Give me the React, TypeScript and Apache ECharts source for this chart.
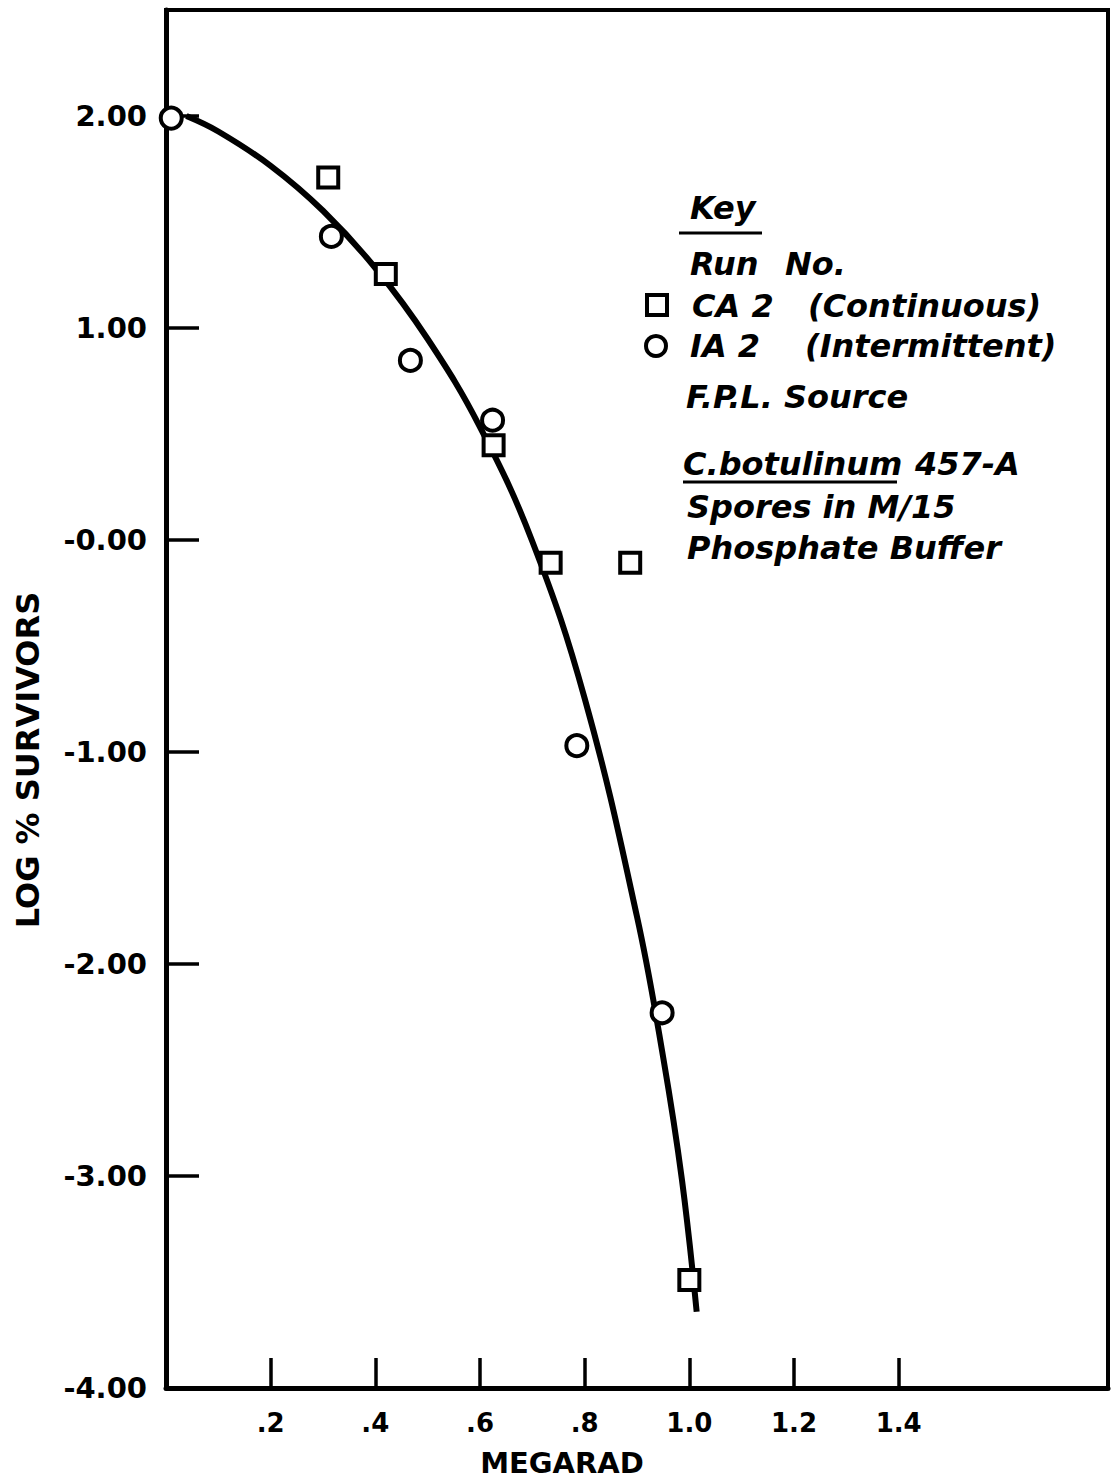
import React, { useEffect, useRef } from "react";
import * as echarts from "echarts";

// Run CA 2 (continuous irradiation) — squares
const caDose = [0.31, 0.42, 0.626, 0.735, 0.887, 1.0];
const caLog = [1.71, 1.255, 0.447, -0.107, -0.107, -3.49];

// Run IA 2 (intermittent irradiation) — circles
const iaDose = [0.01, 0.316, 0.467, 0.624, 0.785, 0.948];
const iaLog = [1.99, 1.432, 0.847, 0.565, -0.97, -2.23];

// Hand-fitted survival curve
const curveDose = [0.039, 0.1, 0.2, 0.3, 0.4, 0.5, 0.6, 0.7, 0.8, 0.9, 0.95, 0.986, 1.014];
const curveLog = [2.0, 1.927, 1.765, 1.553, 1.283, 0.948, 0.533, -0.007, -0.747, -1.777, -2.44, -3.02, -3.64];

// Axis ticks and their printed labels
const xTicks = [0.2, 0.4, 0.6, 0.8, 1.0, 1.2, 1.4];
const xTickLabels = [".2", ".4", ".6", ".8", "1.0", "1.2", "1.4"];
const yTicks = [-4, -3, -2, -1, 0, 1, 2];
const yTickLabels = ["-4.00", "-3.00", "-2.00", "-1.00", "-0.00", "1.00", "2.00"];

const INK = "#000";
const AXIS_FONT = '"DejaVu Sans", "Liberation Sans", sans-serif';
const KEY_FONT = 'italic bold 32px "DejaVu Sans", sans-serif';

function keyText(text: string, x: number, y: number) {
  return {
    type: "text",
    x,
    y,
    style: {
      text,
      font: KEY_FONT,
      fill: INK,
      align: "left",
      verticalAlign: "middle",
    },
  };
}

function underline(x1: number, x2: number, y: number) {
  return {
    type: "line",
    shape: { x1, y1: y, x2, y2: y },
    style: { stroke: INK, lineWidth: 3 },
  };
}

export default function App() {
  const ref = useRef<HTMLDivElement>(null);

  useEffect(() => {
    if (!ref.current) return;
    const chart = echarts.init(ref.current, null, { renderer: "svg" });

    const findLabel = (v: number, ticks: number[], labels: string[]) => {
      const i = ticks.findIndex((t) => Math.abs(t - v) < 1e-6);
      return i >= 0 ? labels[i] : "";
    };

    chart.setOption({
      animation: false,
      backgroundColor: "#fff",
      grid: {
        left: 166,
        right: 4,
        top: 10,
        bottom: 95,
        show: true,
        borderColor: INK,
        borderWidth: 4,
        backgroundColor: "transparent",
      },
      xAxis: {
        type: "value",
        min: 0,
        max: 1.8,
        interval: 0.2,
        axisLine: { show: true, onZero: false, lineStyle: { color: INK, width: 5 } },
        axisTick: {
          show: true,
          inside: true,
          length: 30,
          customValues: xTicks,
          lineStyle: { color: INK, width: 3.5 },
        },
        axisLabel: {
          customValues: xTicks,
          margin: 22,
          color: INK,
          fontSize: 26,
          fontWeight: "bold",
          fontFamily: AXIS_FONT,
          formatter: (v: number) => findLabel(v, xTicks, xTickLabels),
        },
        splitLine: { show: false },
      },
      yAxis: {
        type: "value",
        min: -4,
        max: 2.5,
        interval: 1,
        axisLine: { show: true, onZero: false, lineStyle: { color: INK, width: 5 } },
        axisTick: {
          show: true,
          inside: true,
          length: 33,
          customValues: [-3, -2, -1, 0, 1, 2],
          lineStyle: { color: INK, width: 3.5 },
        },
        axisLabel: {
          customValues: yTicks,
          margin: 19,
          color: INK,
          fontSize: 29,
          fontWeight: "bold",
          fontFamily: AXIS_FONT,
          formatter: (v: number) => findLabel(v, yTicks, yTickLabels),
        },
        splitLine: { show: false },
      },
      series: [
        {
          name: "curve",
          type: "line",
          data: curveDose.map((x, i) => [x, curveLog[i]]),
          smooth: 0.4,
          showSymbol: false,
          lineStyle: { color: INK, width: 6 },
          z: 2,
        },
        {
          name: "CA 2 (Continuous)",
          type: "scatter",
          data: caDose.map((x, i) => [x, caLog[i]]),
          symbol: "rect",
          symbolSize: 20,
          clip: false,
          itemStyle: { color: "#fff", borderColor: INK, borderWidth: 4, opacity: 1 },
          z: 3,
        },
        {
          name: "IA 2 (Intermittent)",
          type: "scatter",
          data: iaDose.map((x, i) => [x, iaLog[i]]),
          symbol: "circle",
          symbolSize: 21,
          clip: false,
          itemStyle: { color: "#fff", borderColor: INK, borderWidth: 4, opacity: 1 },
          z: 3,
        },
      ],
      graphic: [
        // axis titles
        {
          type: "text",
          x: 562,
          y: 1463,
          style: {
            text: "MEGARAD",
            font: `bold 29px ${AXIS_FONT}`,
            fill: INK,
            align: "center",
            verticalAlign: "middle",
          },
        },
        {
          type: "text",
          x: 28,
          y: 760,
          rotation: Math.PI / 2,
          style: {
            text: "LOG % SURVIVORS",
            font: `bold 32px ${AXIS_FONT}`,
            fill: INK,
            align: "center",
            verticalAlign: "middle",
          },
        },
        // key
        keyText("Key", 690, 208),
        underline(679, 762, 233),
        keyText("Run", 690, 264),
        keyText("No.", 785, 264),
        {
          type: "rect",
          shape: { x: 647, y: 295, width: 20, height: 20 },
          style: { fill: "#fff", stroke: INK, lineWidth: 4 },
        },
        keyText("CA 2", 692, 306),
        keyText("(Continuous)", 808, 306),
        {
          type: "circle",
          shape: { cx: 656, cy: 346, r: 10 },
          style: { fill: "#fff", stroke: INK, lineWidth: 4 },
        },
        keyText("IA 2", 690, 346),
        keyText("(Intermittent)", 805, 346),
        keyText("F.P.L. Source", 686, 397),
        keyText("C.botulinum", 683, 464),
        underline(683, 897, 482),
        keyText("457-A", 915, 464),
        keyText("Spores in M/15", 687, 507),
        keyText("Phosphate Buffer", 687, 548),
      ],
    });

    return () => chart.dispose();
  }, []);

  return (
    <div
      ref={ref}
      style={{ position: "absolute", left: 0, top: 0, width: 1112, height: 1483, background: "#fff" }}
    />
  );
}
